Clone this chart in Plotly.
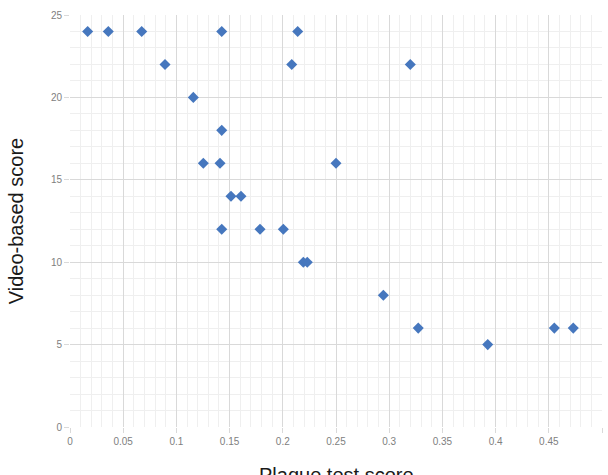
import plotly.graph_objects as go

plaque_score = [0.0166, 0.036, 0.0674, 0.0893, 0.1159, 0.1426, 0.214, 0.2084, 0.3198,
                0.1426, 0.1253, 0.141, 0.25, 0.1513, 0.1607, 0.1426, 0.1786, 0.2005,
                0.2193, 0.223, 0.2945, 0.3273, 0.3926, 0.4552, 0.473]
video_score = [24, 24, 24, 22, 20, 24, 24, 22, 22,
               18, 16, 16, 16, 14, 14, 12, 12, 12,
               10, 10, 8, 6, 5, 6, 6]

x_ticks = [0, 0.05, 0.1, 0.15, 0.2, 0.25, 0.3, 0.35, 0.4, 0.45, 0.5]
x_tick_labels = ["0", "0.05", "0.1", "0.15", "0.2", "0.25", "0.3", "0.35", "0.4", "0.45", "0.5"]
y_ticks = [0, 5, 10, 15, 20, 25]

fig = go.Figure()
fig.add_trace(go.Scatter(
    x=plaque_score, y=video_score, mode="markers",
    marker=dict(symbol="diamond", size=8.5, color="#4677BE", line=dict(width=0)),
    showlegend=False,
))

tick_font = dict(family="Liberation Sans, Arial, sans-serif", size=10, color="#808080")
title_font = dict(family="Liberation Sans, Arial, sans-serif", size=20, color="#1a1a1a")

fig.update_layout(
    width=608, height=475,
    margin=dict(l=70, r=6, t=15, b=48),
    paper_bgcolor="white", plot_bgcolor="white",
    xaxis=dict(
        range=[0, 0.5], tickvals=x_ticks, ticktext=x_tick_labels,
        showgrid=True, gridcolor="#d9d9d9", gridwidth=1,
        zeroline=False, showline=False,
        ticks="outside", ticklen=5, tickcolor="#d9d9d9",
        tickfont=tick_font,
        minor=dict(dtick=0.01, showgrid=True, gridcolor="#efefef", gridwidth=1),
        automargin=False,
    ),
    yaxis=dict(
        range=[0, 25], tickvals=y_ticks,
        showgrid=True, gridcolor="#d9d9d9", gridwidth=1,
        zeroline=False, showline=False,
        ticks="outside", ticklen=5, tickcolor="#d9d9d9",
        tickfont=tick_font,
        minor=dict(dtick=1, showgrid=True, gridcolor="#efefef", gridwidth=1),
        title=dict(text="Video-based score", font=title_font, standoff=21),
        automargin=False,
    ),
    annotations=[dict(
        text="Plaque test score", font=title_font, showarrow=False,
        xref="paper", yref="paper", x=0.5, y=0, xanchor="center", yanchor="top",
        yshift=-35,
    )],
)

fig.write_html("out.html")
